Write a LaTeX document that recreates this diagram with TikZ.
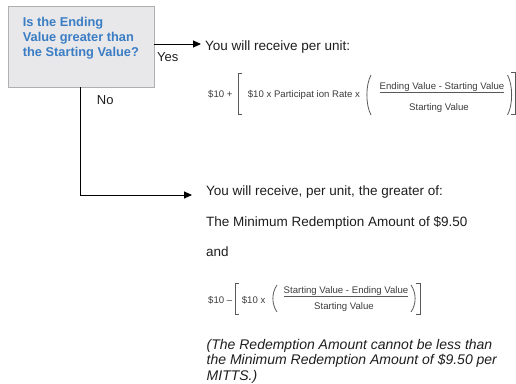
\documentclass[tikz,border=0pt]{standalone}
\usepackage{fontspec}
\setmainfont{Liberation Sans}
\usetikzlibrary{arrows.meta}
\definecolor{askblue}{RGB}{58,125,196}
\definecolor{askfill}{RGB}{232,232,234}
\definecolor{askline}{RGB}{176,176,178}
\definecolor{ink}{RGB}{30,30,30}
\definecolor{frmink}{RGB}{60,60,60}

\begin{document}
\begin{tikzpicture}[x=1pt,y=-1pt,
    flow/.style={line width=0.9pt,-{Triangle[length=8pt,width=7pt]}},
    body/.style={anchor=base west,inner sep=0pt,text=ink,font=\fontsize{13.5}{16}\selectfont},
    frm/.style={anchor=base,inner sep=0pt,text=frmink,font=\fontsize{9.6}{11}\selectfont},
    delim/.style={draw=frmink!85,line width=0.8pt}]
  \useasboundingbox (0,0) rectangle (516,383);

  %%%%% QUESTION %%%%%
  \node[draw=askline,fill=askfill,line width=0.8pt,minimum width=146pt,minimum height=81pt,inner sep=0pt] (q) at (81,46.5) {};
  \node[anchor=north west,inner sep=0pt,align=left,text=askblue,font=\bfseries\fontsize{12.8}{15}\selectfont] (qtext) at (22.7,17) {Is the Ending\\Value greater than\\the Starting Value?};

  \coordinate (yestip) at (201,44);
  \coordinate (notip) at (192,195);
  \draw[flow] (q.east |- yestip) -- (yestip);
  \draw[flow] ([xshift=-1pt]q.south) |- (notip);
  \node[body,font=\fontsize{13}{15}\selectfont] (yes) at (157,61) {Yes};
  \node[body,font=\fontsize{13}{15}\selectfont] (no) at (96.7,104.5) {No};

  %%%%% YES BRANCH %%%%%
  \node[body] (perunit) at (205,50) {You will receive per unit:};

  \node[frm,anchor=base west] (f1a) at (208,97.7) {\$10 +};
  \draw[delim] (242,73) -- (238,73) -- (238,114) -- (242,114);
  \node[frm,anchor=base west] (f1b) at (247.7,97.7) {\$10 x Participat ion Rate x};
  \draw[delim] (371,75) .. controls (365.5,85) and (365.5,105) .. (371,115);
  \node[frm] (f1n) at (442,89) {Ending Value - Starting Value};
  \draw[delim] (f1n.west |- 0,92) -- (f1n.east |- 0,92);
  \node[frm] (f1d) at (439,110) {Starting Value};
  \draw[delim] (507.5,75) .. controls (513,85) and (513,105) .. (507.5,115);
  \draw[delim] (511,72) -- (515,72) -- (515,114) -- (511,114);

  %%%%% NO BRANCH %%%%%
  \node[body] (greater) at (206,195.5) {You will receive, per unit, the greater of:};
  \node[body] (minimum) at (206,226.5) {The Minimum Redemption Amount of \$9.50};
  \node[body] (and) at (206,256.5) {and};

  \node[frm,anchor=base west] (f2a) at (208,303.4) {\$10 --};
  \draw[delim] (239,283) -- (235,283) -- (235,314) -- (239,314);
  \node[frm,anchor=base west] (f2b) at (241.7,303.4) {\$10 x};
  \draw[delim] (277,285) .. controls (271.5,293) and (271.5,304) .. (277,312);
  \node[frm] (f2n) at (346,293.5) {Starting Value - Ending Value};
  \draw[delim] (f2n.west |- 0,296) -- (f2n.east |- 0,296);
  \node[frm] (f2d) at (344,309.5) {Starting Value};
  \draw[delim] (411,285) .. controls (416.5,293) and (416.5,304) .. (411,312);
  \draw[delim] (416,283) -- (420,283) -- (420,314) -- (416,314);

  \node[body,anchor=north west,align=left,font=\itshape\fontsize{14}{15.5}\selectfont] (note) at (206.5,339)
    {(The Redemption Amount cannot be less than\\the Minimum Redemption Amount of \$9.50 per\\MITTS.)};
\end{tikzpicture}
\end{document}
